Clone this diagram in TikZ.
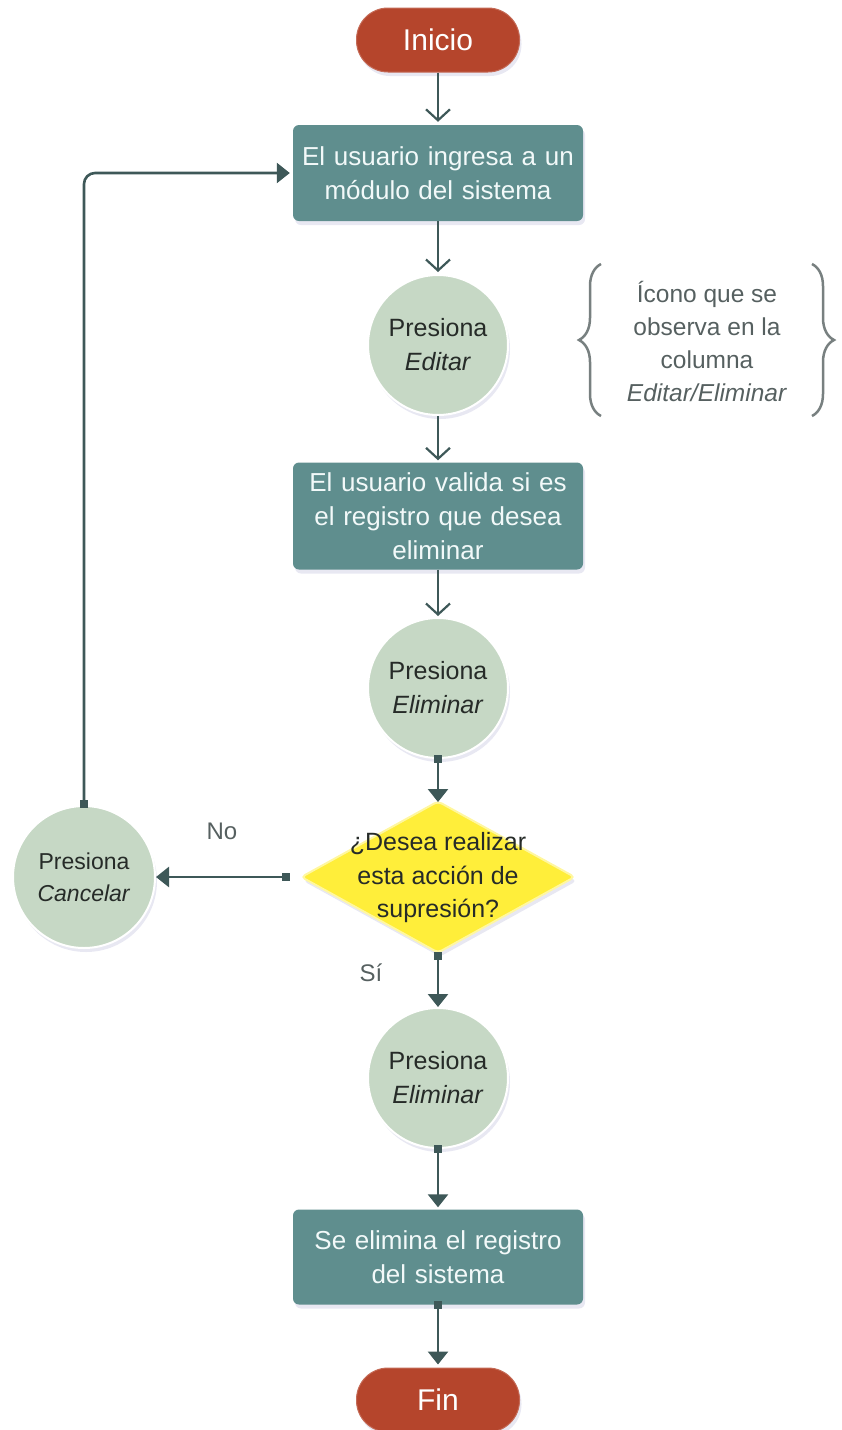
\documentclass[tikz,border=0pt]{standalone}
\usepackage{fontspec}
\setmainfont{Liberation Sans}
\usetikzlibrary{arrows.meta,shapes.geometric,shadows,decorations.pathreplacing}
\definecolor{termred}{HTML}{B5452C}
\definecolor{boxteal}{HTML}{5F8E8E}
\definecolor{sage}{HTML}{C6D8C5}
\definecolor{yel}{HTML}{FFEE3A}
\definecolor{yelrim}{HTML}{FFF7A0}
\definecolor{conn}{HTML}{3E5858}
\definecolor{notegray}{HTML}{566060}
\definecolor{darktxt}{HTML}{262B28}
\tikzset{
  shad/.style={drop shadow={opacity=0.14,shadow xshift=2pt,shadow yshift=-4pt,fill=gray!70!blue}},
  term/.style={shad,rectangle,rounded corners=31.5pt,fill=termred,draw=termred!80!white,line width=1pt,
    minimum width=163pt,minimum height=64pt,text=white,font=\fontsize{30}{34}\selectfont,inner sep=0pt},
  procbox/.style={shad,rectangle,rounded corners=6pt,fill=boxteal,minimum width=290pt,
    text width=284pt,align=center,text=white!95!teal,font=\fontsize{26}{34}\selectfont,inner sep=0pt},
  presscirc/.style={shad,circle,fill=sage,draw=white,line width=2pt,minimum size=140pt,inner sep=0pt,
    align=center,text=darktxt,font=\fontsize{25}{34}\selectfont},
  decis/.style={shad,diamond,fill=yel,draw=yelrim,line width=2pt,rounded corners=4pt,
    minimum width=274pt,minimum height=152pt,inner sep=0pt},
  dtext/.style={align=center,text=darktxt,font=\fontsize{25}{33.5}\selectfont,inner sep=0pt},
  lbl/.style={text=notegray,font=\fontsize{24}{28}\selectfont,inner sep=0pt},
  notetxt/.style={align=center,text=notegray,font=\fontsize{24.5}{33}\selectfont,inner sep=0pt},
  bracepath/.style={draw=notegray!80,line width=2.5pt,decorate,decoration={brace,amplitude=22pt}},
  arrO/.style={draw=conn,line width=2.2pt,-{Straight Barb[length=11pt,width=24pt]}},
  arrF/.style={draw=conn,line width=2.6pt,{Square[length=8pt,width=8pt]}-{Triangle[length=13pt,width=20pt]}},
}
\begin{document}
\begin{tikzpicture}[x=1pt,y=-1pt]
\useasboundingbox (0,0) rectangle (842,1430);
% nodes
\node[term] (ini) at (438,40) {Inicio};
\node[procbox,minimum height=96pt] (b1) at (438,173) {El usuario ingresa a un\\módulo del sistema};
\node[presscirc] (c1) at (438,345) {Presiona\\\textit{Editar}};
\node[procbox,minimum height=107pt] (b2) at (438,516) {El usuario valida si es\\el registro que desea\\eliminar};
\node[presscirc] (c2) at (438,688) {Presiona\\\textit{Eliminar}};
\node[decis] (d) at (438,877) {};
\node[dtext] (dtx) at (438,878) {¿Desea realizar\\esta acción de\\supresión?};
\node[presscirc,minimum size=142pt,font=\fontsize{23}{32}\selectfont] (cc) at (84,877) {Presiona\\\textit{Cancelar}};
\node[presscirc] (c3) at (438,1078) {Presiona\\\textit{Eliminar}};
\node[procbox,minimum height=95pt] (b3) at (438,1257) {Se elimina el registro\\del sistema};
\node[term] (fin) at (438,1400) {Fin};
% side note
\node[notetxt] (note) at (707,341) {Ícono que se\\observa en la\\columna\\\textit{Editar/Eliminar}};
\coordinate (lbB) at (601,416);
\coordinate (lbT) at (601,264);
\coordinate (rbT) at (812,264);
\coordinate (rbB) at (812,416);
\draw[bracepath] (lbB) -- (lbT);
\draw[bracepath] (rbT) -- (rbB);
% labels
\node[lbl] (lno) at (222,831) {No};
\node[lbl] (lsi) at (371,973) {Sí};
% connectors
\draw[arrO,shorten >=3pt] (ini) -- (b1);
\draw[arrO,shorten >=2pt] (b1) -- (c1);
\draw[arrO,shorten >=2pt] (c1) -- (b2);
\draw[arrO,shorten >=1pt] (b2) -- (c2);
\draw[arrF,shorten <=-4pt,shorten >=-2pt] (c2) -- (d);
\draw[arrF,shorten <=10pt] (d.west) -- (cc.east);
\draw[arrF,shorten <=-3pt,shorten >=3pt,rounded corners=11pt] (cc.north) |- (b1.west);
\draw[arrF,shorten <=-2pt] (d.south) -- (c3.north);
\draw[arrF,shorten <=-4pt,shorten >=2pt] (c3) -- (b3);
\draw[arrF,shorten <=-4pt,shorten >=3pt] (b3) -- (fin);
\end{tikzpicture}
\end{document}
